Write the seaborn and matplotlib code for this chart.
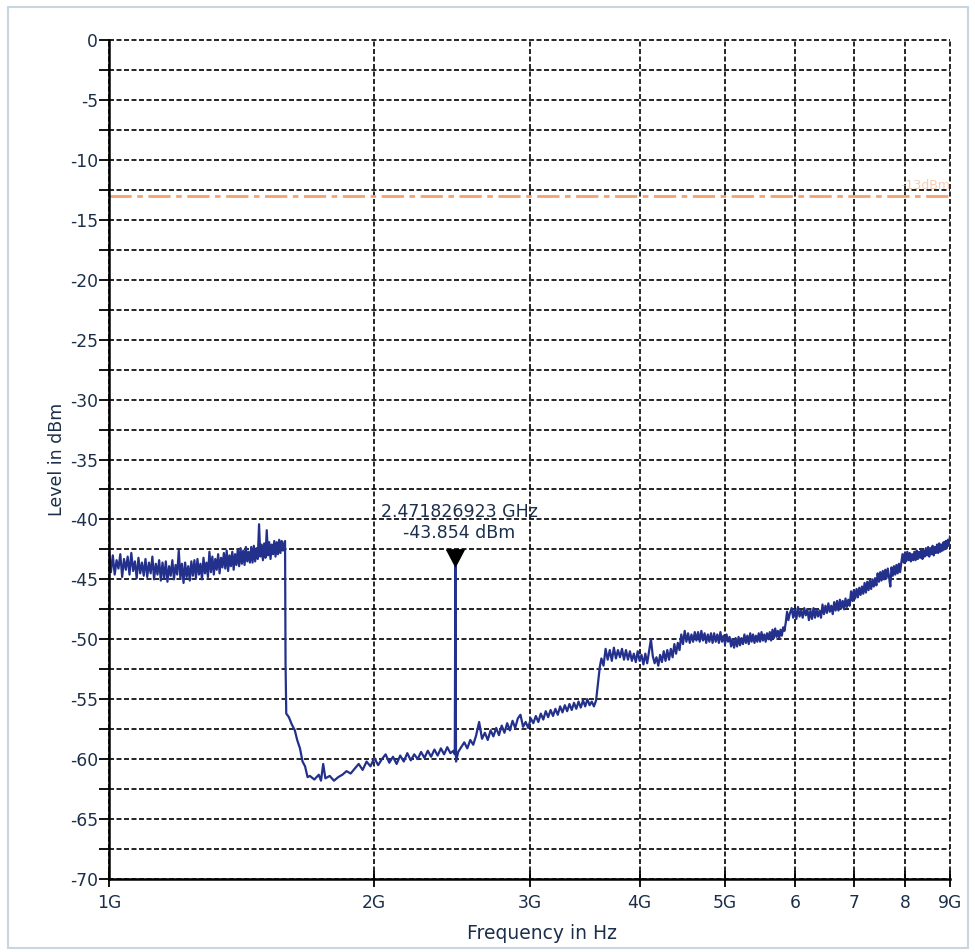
import numpy as np
import pandas as pd
import matplotlib
matplotlib.use("Agg")
import matplotlib.pyplot as plt
from matplotlib.patches import Rectangle
import seaborn as sns

# ---------------- data ----------------
# 1.0 - 1.58 GHz band
band_mhz = [
    1000, 1005, 1010, 1015, 1020, 1025, 1030, 1035, 1040, 1045,
    1050, 1055, 1060, 1065, 1070, 1075, 1080, 1085, 1090, 1095,
    1100, 1105, 1110, 1115, 1120, 1125, 1130, 1135, 1140, 1145,
    1150, 1155, 1160, 1165, 1170, 1175, 1180, 1185, 1190, 1195,
    1200, 1205, 1210, 1215, 1220, 1225, 1230, 1235, 1240, 1245,
    1250, 1255, 1260, 1265, 1270, 1275, 1280, 1285, 1290, 1295,
    1300, 1305, 1310, 1315, 1320, 1325, 1330, 1335, 1340, 1345,
    1350, 1355, 1360, 1365, 1370, 1375, 1380, 1385, 1390, 1395,
    1400, 1405, 1410, 1415, 1420, 1425, 1430, 1435, 1440, 1445,
    1450, 1455, 1460, 1465, 1470, 1475, 1480, 1485, 1490, 1495,
    1500, 1505, 1510, 1515, 1520, 1525, 1530, 1535, 1540, 1545,
    1550, 1555, 1560, 1565, 1570, 1575, 1580, 1584,
]
band_dbm = [
    -42.6, -44.4, -43.0, -44.6, -43.4, -44.1, -42.9, -44.8, -43.3, -44.2,
    -43.1, -44.6, -42.8, -44.3, -43.5, -44.9, -43.2, -44.5, -43.6, -44.7,
    -43.3, -44.8, -43.6, -44.5, -43.1, -45.0, -43.7, -44.6, -43.4, -45.1,
    -43.6, -44.9, -43.5, -45.2, -43.9, -44.7, -43.4, -45.0, -43.8, -44.6,
    -42.6, -44.9, -43.7, -45.3, -43.6, -44.8, -43.9, -45.1, -43.5, -44.7,
    -43.4, -44.9, -43.3, -44.6, -43.7, -45.0, -43.2, -44.5, -43.6, -44.8,
    -42.7, -44.4, -43.1, -44.6, -43.3, -44.2, -42.9, -44.5, -43.2, -44.0,
    -42.8, -44.1, -42.6, -44.3, -43.0, -43.9, -42.7, -44.2, -42.9, -43.8,
    -42.5, -43.9, -42.4, -43.7, -42.6, -43.8, -42.3, -43.5, -42.7, -43.6,
    -42.3, -43.6, -42.2, -43.5, -42.4, -43.3, -40.4, -43.1, -42.1, -43.4,
    -42.0, -43.2, -40.9, -43.0, -41.9, -43.3, -42.1, -42.9, -41.8, -43.1,
    -41.9, -42.9, -41.7, -42.8, -41.8, -42.6, -42.0, -41.8,
]

# roll-off, noise floor, marker spike and 2.5 - 3.6 GHz
floor_mhz = [
    1586, 1589, 1600, 1612, 1625, 1635, 1647, 1658, 1669, 1680,
    1690, 1710, 1730, 1740, 1750, 1760, 1780, 1800, 1820, 1840,
    1860, 1880, 1900, 1920, 1940, 1960, 1980, 2000, 2020, 2040,
    2060, 2080, 2100, 2120, 2140, 2160, 2180, 2200, 2220, 2240,
    2260, 2280, 2300, 2320, 2340, 2360, 2380, 2400, 2420, 2440,
    2460, 2468, 2471.826923, 2476, 2490,
    2510, 2530, 2550, 2570, 2590, 2610, 2630, 2650, 2670, 2690,
    2710, 2730, 2750, 2770, 2790, 2810, 2830, 2850, 2870, 2890,
    2910, 2930, 2950, 2970, 2990, 3010, 3030, 3050, 3070, 3090,
    3110, 3130, 3150, 3170, 3190, 3210, 3230, 3250, 3270, 3290,
    3310, 3330, 3350, 3370, 3390, 3410, 3430, 3450, 3470, 3490,
    3510, 3530, 3550, 3570, 3590, 3605, 3620, 3640,
]
floor_dbm = [
    -52.0, -56.2, -56.5, -57.1, -57.6, -58.4, -59.1, -60.2, -60.6, -61.5,
    -61.4, -61.7, -61.3, -61.8, -60.4, -61.6, -61.4, -61.8, -61.5, -61.3,
    -61.0, -61.2, -60.8, -60.4, -60.9, -60.2, -60.6, -59.9, -60.5, -60.0,
    -59.6, -60.3, -59.8, -60.4, -59.7, -60.2, -59.5, -60.1, -59.6, -60.0,
    -59.4, -59.9, -59.3, -59.8, -59.2, -59.7, -59.1, -59.6, -59.0, -59.5,
    -59.3, -59.6, -43.854, -60.2, -59.4,
    -59.0, -58.6, -59.1, -58.4, -58.8, -58.0, -56.9, -58.3, -57.8, -58.4,
    -57.6, -58.1, -57.4, -58.0, -57.2, -57.8, -57.0, -57.6, -56.8, -57.4,
    -56.6, -56.3, -57.3, -56.9, -57.4, -56.6, -57.0, -56.4, -56.9, -56.2,
    -56.7, -56.0, -56.5, -55.9, -56.4, -55.8, -56.3, -55.6, -56.1, -55.5,
    -56.0, -55.4, -55.9, -55.3, -55.8, -55.2, -55.7, -55.1, -55.6, -55.0,
    -55.5, -55.2, -55.6, -55.1, -53.5, -52.3, -51.6, -52.2,
]

# 3.66 - 5.92 GHz
mid_mhz = [
    3660, 3680, 3700, 3720, 3740, 3760, 3780, 3800, 3820, 3840,
    3860, 3880, 3900, 3920, 3940, 3960, 3980, 4000, 4020, 4040,
    4060, 4080, 4100, 4120, 4140, 4160, 4180, 4200, 4220, 4240,
    4260, 4280, 4300, 4320, 4340, 4360, 4380, 4400, 4420, 4440,
    4460, 4480, 4500, 4520, 4540, 4560, 4580, 4600, 4620, 4640,
    4660, 4680, 4700, 4720, 4740, 4760, 4780, 4800, 4820, 4840,
    4860, 4880, 4900, 4920, 4940, 4960, 4980, 5000, 5020, 5040,
    5060, 5080, 5100, 5120, 5140, 5160, 5180, 5200, 5220, 5240,
    5260, 5280, 5300, 5320, 5340, 5360, 5380, 5400, 5420, 5440,
    5460, 5480, 5500, 5520, 5540, 5560, 5580, 5600, 5620, 5640,
    5660, 5680, 5700, 5720, 5740, 5760, 5780, 5800, 5820, 5840,
    5860, 5880, 5900, 5920,
]
mid_dbm = [
    -50.8, -51.7, -50.9, -51.8, -50.7, -51.6, -50.9, -51.5, -50.8, -51.7,
    -50.9, -51.7, -51.0, -51.8, -51.2, -51.9, -51.0, -51.8, -51.3, -52.1,
    -51.2, -52.0, -51.0, -50.0, -51.4, -52.0, -51.5, -52.2, -51.3, -51.9,
    -51.0, -51.8, -50.9, -51.7, -50.8, -51.5, -50.4, -51.2, -50.3, -50.9,
    -49.6, -50.4, -49.3, -50.2, -49.5, -50.3, -49.6, -50.2, -49.4, -50.1,
    -49.4, -50.2, -49.3, -50.1, -49.5, -50.3, -49.6, -50.2, -49.5, -50.3,
    -49.5, -50.2, -49.6, -50.3, -49.4, -50.2, -49.7, -50.4, -49.6, -50.2,
    -49.8, -50.6, -50.0, -50.7, -49.9, -50.6, -49.8, -50.5, -49.9, -50.4,
    -49.6, -50.3, -49.7, -50.4, -49.5, -50.2, -49.6, -50.3, -49.7, -50.2,
    -49.5, -50.2, -49.4, -50.1, -49.6, -50.2, -49.5, -50.0, -49.4, -50.1,
    -49.2, -49.9, -49.1, -49.8, -49.3, -49.9, -49.2, -49.7, -49.0, -49.3,
    -48.6, -47.7, -48.4, -47.9,
]

# 5.95 - 9.0 GHz
high_mhz = [
    5950, 5975, 6000, 6025, 6050, 6075, 6100, 6125, 6150, 6175,
    6200, 6225, 6250, 6275, 6300, 6325, 6350, 6375, 6400, 6425,
    6450, 6475, 6500, 6525, 6550, 6575, 6600, 6625, 6650, 6675,
    6700, 6725, 6750, 6775, 6800, 6825, 6850, 6875, 6900, 6925,
    6950, 6975, 7000, 7025, 7050, 7075, 7100, 7125, 7150, 7175,
    7200, 7225, 7250, 7275, 7300, 7325, 7350, 7375, 7400, 7425,
    7450, 7475, 7500, 7525, 7550, 7575, 7600, 7625, 7650, 7675,
    7700, 7725, 7750, 7775, 7800, 7825, 7850, 7875, 7900, 7925,
    7950, 7975, 8000, 8025, 8050, 8075, 8100, 8125, 8150, 8175,
    8200, 8225, 8250, 8275, 8300, 8325, 8350, 8375, 8400, 8425,
    8450, 8475, 8500, 8525, 8550, 8575, 8600, 8625, 8650, 8675,
    8700, 8725, 8750, 8775, 8800, 8825, 8850, 8875, 8900, 8925,
    8950, 8975, 9000,
]
high_dbm = [
    -47.4, -48.2, -47.5, -48.3, -47.3, -48.1, -47.6, -48.2, -47.4, -48.0,
    -47.5, -48.4, -47.6, -48.3, -47.4, -48.2, -47.5, -48.1, -47.6, -48.2,
    -47.1, -47.9, -47.2, -47.8, -47.0, -47.7, -47.2, -47.9, -46.9, -47.6,
    -46.8, -47.6, -46.7, -47.4, -46.8, -47.5, -46.6, -47.3, -46.7, -47.2,
    -46.0, -46.8, -45.9, -46.6, -45.8, -46.5, -45.7, -46.3, -45.6, -46.2,
    -45.3, -46.1, -45.2, -45.9, -45.1, -45.8, -45.0, -45.6, -44.9, -45.5,
    -44.5, -45.2, -44.4, -45.1, -44.3, -45.0, -44.2, -44.9, -44.1, -44.8,
    -45.6, -44.0, -44.7, -43.9, -44.6, -43.8, -44.5, -43.7, -44.4, -43.6,
    -42.9, -43.6, -42.8, -43.5, -42.7, -43.4, -42.8, -43.5, -42.9, -43.4,
    -42.7, -43.4, -42.6, -43.3, -42.7, -43.2, -42.5, -43.3, -42.6, -43.1,
    -42.4, -43.0, -42.3, -43.1, -42.4, -42.9, -42.2, -43.0, -42.3, -42.8,
    -42.1, -42.8, -42.0, -42.7, -42.1, -42.6, -41.9, -42.5, -41.8, -42.4,
    -41.7, -42.2, -41.4,
]

marker_freq_ghz = 2.471826923
marker_level = -43.854
limit_level = -13.0
limit_label = "-13dBm"

x_ticks = [1, 2, 3, 4, 5, 6, 7, 8, 9]
x_tick_labels = ["1G", "2G", "3G", "4G", "5G", "6", "7", "8", "9G"]
y_major = [0, -5, -10, -15, -20, -25, -30, -35, -40, -45, -50, -55, -60, -65, -70]
y_minor = [-2.5, -7.5, -12.5, -17.5, -22.5, -27.5, -32.5, -37.5, -42.5,
           -47.5, -52.5, -57.5, -62.5, -67.5]

# ---------------- style ----------------
sns.set_theme(style="white")
plt.rcParams["font.family"] = ["DejaVu Sans"]

text_color = "#1c2f4a"
trace_color = "#23308c"

fig = plt.figure(figsize=(9.75, 9.52), dpi=100)
fig.patch.set_facecolor("white")
ax = fig.add_axes([109 / 975, 1 - 879 / 952, 841 / 975, 839 / 952])
ax.set_facecolor("white")

freq_all = band_mhz + floor_mhz + mid_mhz + high_mhz
level_all = band_dbm + floor_dbm + mid_dbm + high_dbm
df = pd.DataFrame({"freq_ghz": np.array(freq_all) / 1000.0, "level": level_all})
sns.lineplot(data=df, x="freq_ghz", y="level", ax=ax, color=trace_color,
             linewidth=1.6, sort=False, estimator=None, zorder=4)

# limit line
ax.axhline(limit_level, color="#f2a36f", lw=2.0, ls=(0, (8, 2, 2, 2)), zorder=3)
ax.text(x_ticks[-1], limit_level + 0.3, limit_label, ha="right", va="bottom",
        fontsize=9, color="#f2a36f", alpha=0.55, zorder=3)

# marker (triangle with tip on the peak)
tri = [(-1.0, 1.9), (1.0, 1.9), (0.0, 0.0), (-1.0, 1.9)]
ax.plot([marker_freq_ghz], [marker_level], marker=tri, ms=24, color="black",
        lw=0, zorder=6)
ax.annotate(f"{marker_freq_ghz:.9f} GHz\n{marker_level:.3f} dBm",
            xy=(marker_freq_ghz, marker_level), xytext=(4, 24),
            textcoords="offset pixels", ha="center", va="bottom",
            multialignment="center", fontsize=12.5, color=text_color,
            linespacing=1.2, zorder=6)

# axes
ax.set_xscale("log")
ax.set_xlim(x_ticks[0], x_ticks[-1])
ax.set_ylim(y_major[-1], y_major[0])
ax.xaxis.set_minor_locator(matplotlib.ticker.NullLocator())
ax.set_xticks(x_ticks)
ax.set_xticklabels(x_tick_labels)
ax.set_yticks(y_major)
ax.set_yticklabels([f"{v:g}" for v in y_major])
ax.set_yticks(y_minor, minor=True)

grid_kw = dict(color="black", lw=1.2, ls=(0, (3, 1.5)))
ax.grid(True, which="major", axis="both", **grid_kw)
ax.grid(True, which="minor", axis="y", **grid_kw)
ax.set_axisbelow(True)
for gl in ax.get_xgridlines() + ax.get_ygridlines():
    gl.set_clip_on(False)

for s in ["top", "right"]:
    ax.spines[s].set_visible(False)
for s in ["left", "bottom"]:
    ax.spines[s].set_visible(True)
    ax.spines[s].set_color("black")
    ax.spines[s].set_linewidth(1.8)
    ax.spines[s].set_zorder(5)

ax.tick_params(axis="y", which="both", direction="out", length=7, width=1.3,
               color="black", left=True, labelsize=12.3, labelcolor=text_color, pad=1)
ax.tick_params(axis="x", which="major", direction="inout", length=12, width=1.3,
               color="black", bottom=True, labelsize=12.3, labelcolor=text_color, pad=5)

ax.set_xlabel("Frequency in Hz", fontsize=13.5, color=text_color)
ax.set_ylabel("Level in dBm", fontsize=12.5, color=text_color)
ax.xaxis.set_label_coords((542 - 109) / 841, (879 - 924) / 839)
ax.xaxis.label.set_va("top")
ax.yaxis.set_label_coords((66 - 109) / 841, 0.5)

# light frame around the picture
fig.patches.append(Rectangle((8 / 975, 4 / 952), 960 / 975, 941 / 952,
                             transform=fig.transFigure, fill=False,
                             edgecolor="#c9d6df", lw=1.5))

fig.savefig("out.png", dpi=100)
